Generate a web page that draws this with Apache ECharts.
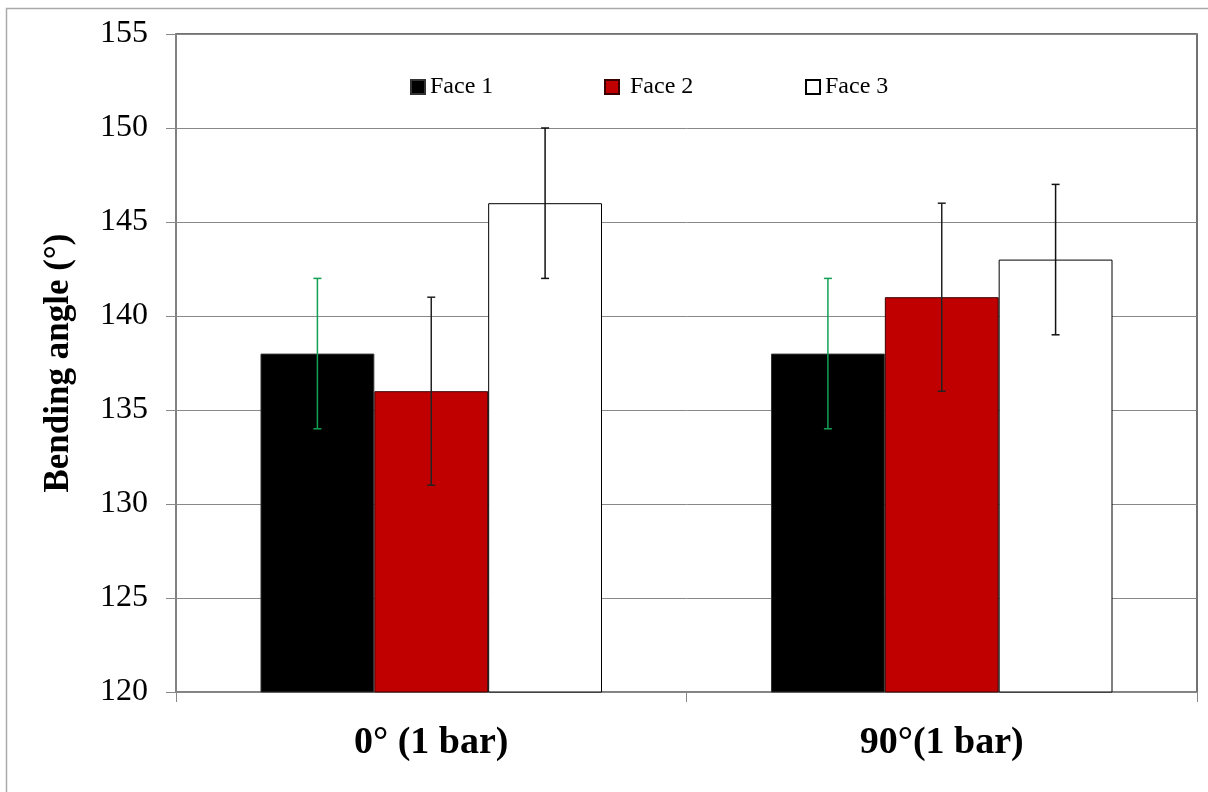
<!DOCTYPE html>
<html>
<head>
<meta charset="utf-8">
<script src="https://cdn.jsdelivr.net/npm/echarts@6/dist/echarts.min.js"></script>
<style>
html,body{margin:0;padding:0;background:#fff;}
#chart{width:1208px;height:792px;}
</style>
</head>
<body>
<div id="chart"></div>
<script>
const categories = ['0° (1 bar)', '90°(1 bar)'];
const seriesNames = ['Face 1', 'Face 2', 'Face 3'];
const face1 = [138, 138];
const face2 = [136, 141];
const face3 = [146, 143];
const face1Err = [4, 4];
const face2Err = [5, 5];
const face3Err = [4, 4];
const yTicks = [120, 125, 130, 135, 140, 145, 150, 155];

const FONT = "'Liberation Serif', 'Times New Roman', serif";
const barFrac = 0.223;
const values = [face1, face2, face3];
const errs = [face1Err, face2Err, face3Err];
const errColors = ['#12a055', '#222', '#111'];
const fills = ['#000000', '#c00000', '#ffffff'];
const borders = ['#333', '#3a0000', '#000'];

const chart = echarts.init(document.getElementById('chart'));

function errSeries(i) {
  return {
    type: 'custom',
    name: seriesNames[i] + ' err',
    z: 10,
    data: categories.map((c, k) => [k, values[i][k], errs[i][k]]),
    renderItem: function (params, api) {
      const k = api.value(0), v = api.value(1), e = api.value(2);
      const band = api.size([1, 0])[0];
      const off = (i - 1) * barFrac * band;
      const top = api.coord([k, v + e]);
      const bot = api.coord([k, v - e]);
      const x = top[0] + off;
      const cap = 4;
      const style = { stroke: errColors[i], lineWidth: 1.5 };
      return {
        type: 'group',
        children: [
          { type: 'line', shape: { x1: x, y1: top[1], x2: x, y2: bot[1] }, style: style },
          { type: 'line', shape: { x1: x - cap, y1: top[1], x2: x + cap, y2: top[1] }, style: style },
          { type: 'line', shape: { x1: x - cap, y1: bot[1], x2: x + cap, y2: bot[1] }, style: style }
        ]
      };
    }
  };
}

const legendLefts = [405, 599, 800];
const legendPads = [0, 6, 0];

const option = {
  animation: false,
  backgroundColor: '#fff',
  graphic: [{
    type: 'rect',
    shape: { x: 6.5, y: 8.5, width: 1300, height: 900 },
    style: { fill: 'none', stroke: '#aaa', lineWidth: 1.5 },
    silent: true
  }],
  legend: seriesNames.map((n, i) => ({
    data: [n],
    left: legendLefts[i],
    top: 70,
    icon: 'rect',
    itemWidth: 14,
    itemHeight: 14,
    selectedMode: false,
    textStyle: { fontFamily: FONT, fontSize: 24, color: '#000', padding: [0, 0, 0, legendPads[i]] }
  })),
  grid: {
    left: 176, right: 11, top: 34, bottom: 100,
    show: true, borderColor: '#444', borderWidth: 1.5
  },
  xAxis: {
    type: 'category',
    data: categories,
    axisLine: { lineStyle: { color: '#888', width: 1.5 } },
    axisTick: { show: true, length: 10, lineStyle: { color: '#888' } },
    axisLabel: { fontFamily: FONT, fontSize: 38, fontWeight: 'bold', color: '#000', margin: 32 }
  },
  yAxis: {
    type: 'value',
    min: yTicks[0],
    max: yTicks[yTicks.length - 1],
    interval: 5,
    name: 'Bending angle (°)',
    nameLocation: 'middle',
    nameGap: 100,
    nameTextStyle: { fontFamily: FONT, fontSize: 35, fontWeight: 'bold', color: '#000' },
    axisLine: { show: true, lineStyle: { color: '#888', width: 1.5 } },
    axisTick: { show: true, length: 10, lineStyle: { color: '#888' } },
    splitLine: { lineStyle: { color: '#888', width: 1 } },
    axisLabel: { fontFamily: FONT, fontSize: 32, color: '#000', margin: 28 }
  },
  series: [
    ...seriesNames.map((n, i) => ({
      type: 'bar',
      name: n,
      data: values[i],
      barWidth: (barFrac * 100) + '%',
      barGap: '0%',
      itemStyle: { color: fills[i], borderColor: borders[i], borderWidth: 1 }
    })),
    errSeries(0), errSeries(1), errSeries(2)
  ]
};
chart.setOption(option);
</script>
</body>
</html>
